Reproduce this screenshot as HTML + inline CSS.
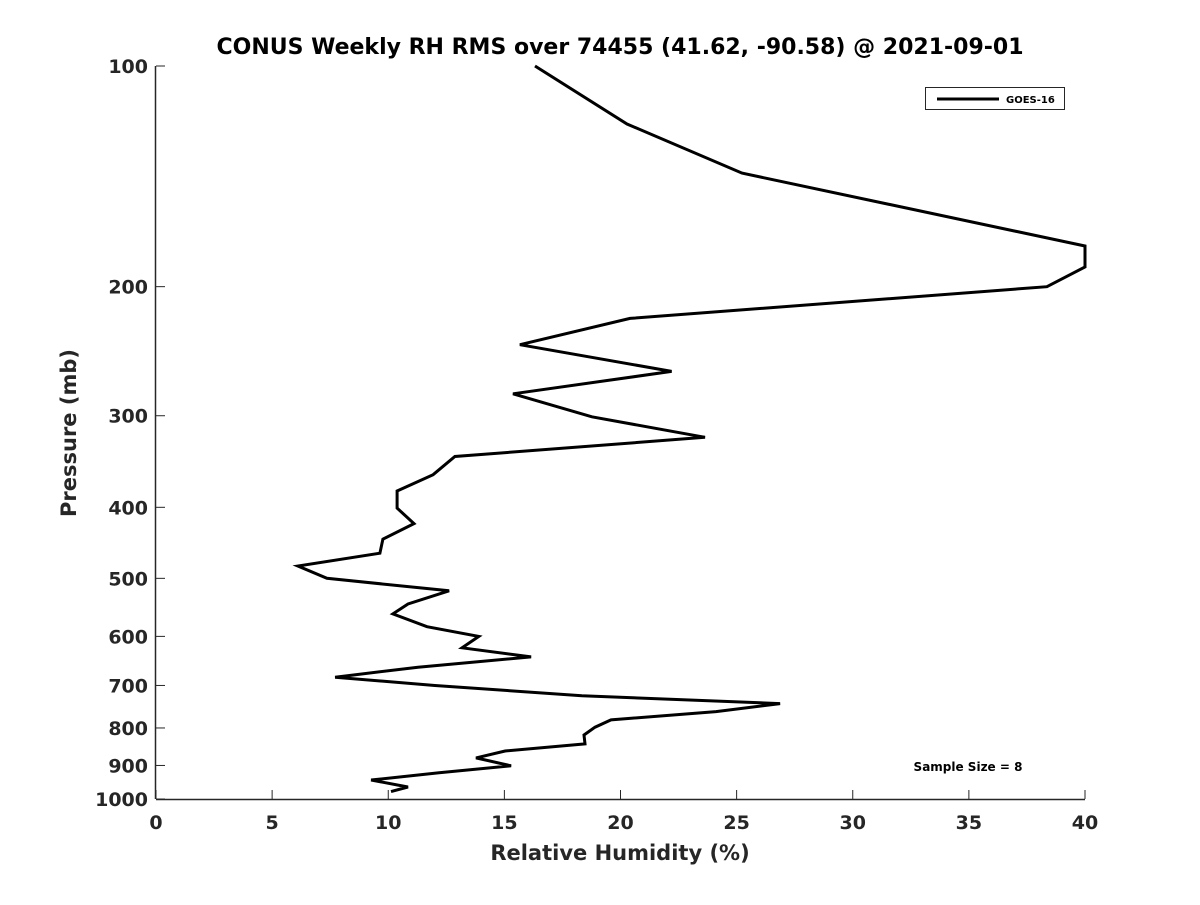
<!DOCTYPE html>
<html><head><meta charset="utf-8"><style>
body{margin:0;background:#fff}
svg text{font-family:"DejaVu Sans","Liberation Sans",sans-serif;font-weight:bold;fill:#262626}
</style></head><body>
<svg id="chart" width="1200" height="900" xmlns="http://www.w3.org/2000/svg">
<rect width="1200" height="900" fill="#fff"/>
<text x="620" y="54" text-anchor="middle" font-size="22" style="fill:#000">CONUS Weekly RH RMS over 74455 (41.62, -90.58) @ 2021-09-01</text>
<g id="axes"></g>
<path id="series" fill="none" stroke="#000" stroke-width="3" stroke-linejoin="miter"/>
<g>
<rect x="925.5" y="87.5" width="139" height="22" fill="#fff" stroke="#262626" stroke-width="1"/>
<line x1="937" y1="99" x2="999" y2="99" stroke="#000" stroke-width="3"/>
<text x="1006" y="103" font-size="10" style="fill:#000">GOES-16</text>
</g>
<text x="968" y="771" text-anchor="middle" font-size="12" style="fill:#000">Sample Size = 8</text>
<text x="620" y="860" text-anchor="middle" font-size="21">Relative Humidity (%)</text>
<text transform="translate(76,433) rotate(-90)" text-anchor="middle" font-size="21">Pressure (mb)</text>
</svg>
<script>
const rhValues=[16.32,20.28,25.23,40,40,38.36,20.41,15.67,22.2,15.37,18.77,23.64,12.87,11.93,10.38,10.38,11.11,9.77,9.64,6.11,7.36,12.62,10.85,10.2,11.67,13.9,13.18,16.15,11.28,7.71,12.01,18.34,26.87,24.11,19.59,18.9,18.43,18.47,15.03,13.78,15.29,12.19,9.26,10.85,10.12];
const pressureLevels=[100,120,140,176,188,200,221,240,261,280,301,321,341,361,380,401,421,442,462,481,500,520,542,559,582,600,622,640,661,682,700,723,741,760,780,798,818,841,860,879,901,921,942,963,977];
const xTicks=[0,5,10,15,20,25,30,35,40];
const yTicks=[100,200,300,400,500,600,700,800,900,1000];
const X0=156,X1=1085,Y0=66,Y1=799;
const xs=v=>X0+(v-0)/40*(X1-X0);
const ys=p=>Y0+(Math.log10(p)-2)*(Y1-Y0);
const NS='http://www.w3.org/2000/svg';
const ax=document.getElementById('axes');
function mk(t,a){const e=document.createElementNS(NS,t);for(const k in a)e.setAttribute(k,a[k]);ax.appendChild(e);return e;}
let l=mk('line',{x1:X0,y1:Y1+0.5,x2:X1,y2:Y1+0.5,stroke:'#262626','stroke-width':1.5});


l=mk('line',{x1:X0-0.5,y1:Y0,x2:X0-0.5,y2:Y1,stroke:'#262626','stroke-width':1.5});


xTicks.forEach(v=>{const x=xs(v);
 const t=mk('line',{x1:x,y1:Y1,x2:x,y2:Y1-9,stroke:'#262626','stroke-width':1});
 
 
 const tx=mk('text',{x:x,y:Y1+30,'text-anchor':'middle','font-size':19});tx.textContent=v;
 
 
});
yTicks.forEach(p=>{const y=ys(p);
 const t=mk('line',{x1:X0,y1:y,x2:X0+9,y2:y,stroke:'#262626','stroke-width':1});
 
 
 const tx=mk('text',{x:X0-8,y:y+7,'text-anchor':'end','font-size':19});tx.textContent=p;
 
 
});
document.getElementById('series').setAttribute('d',rhValues.map((v,i)=>(i?'L':'M')+xs(v).toFixed(1)+','+ys(pressureLevels[i]).toFixed(1)).join(''));
</script>
</body></html>
